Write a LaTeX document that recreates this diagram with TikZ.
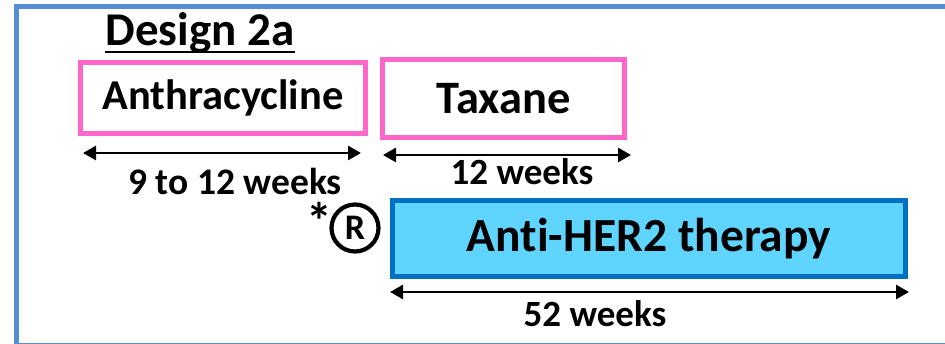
\documentclass[tikz,border=0pt]{standalone}
\usepackage{fontspec}
\setmainfont{Carlito}[Ligatures=NoCommon]
\usetikzlibrary{arrows.meta}
\definecolor{framec}{HTML}{558ED5}
\definecolor{pinkc}{HTML}{FF66CC}
\definecolor{darkblue}{HTML}{0070C0}
\definecolor{lightblue}{HTML}{5FD4FF}
\begin{document}
\begin{tikzpicture}[x=1pt,y=-1pt,
  chemo/.style={draw=pinkc,line width=5pt,inner sep=0pt},
  her/.style={draw=darkblue,fill=lightblue,line width=5pt,inner sep=0pt},
  dur/.style={line width=2.8pt,{Triangle[length=13pt,width=14pt]}-{Triangle[length=13pt,width=14pt]}},
  lbl/.style={font=\bfseries,inner sep=0pt}]
\useasboundingbox (0,0) rectangle (945,344);
\clip (0,0) rectangle (945,344);
\draw[framec,line width=5pt] (16.5,6.5) rectangle (960,345.5);
\node[lbl,font=\bfseries\fontsize{47}{49}\selectfont,anchor=base] (title) at (200,46) {Design 2a};
\draw[line width=2.6pt] ([yshift=-6pt]title.base west) -- ([yshift=-6pt]title.base east);
% boxes
\node[chemo,minimum width=285pt,minimum height=71pt] (anth) at (223,98)
  {\fontsize{42.5}{44}\selectfont\bfseries Anthracycline};
\node[chemo,minimum width=242pt,minimum height=78pt] (tax) at (503.5,98.5)
  {\fontsize{46.5}{48}\selectfont\bfseries Taxane};
\node[her,minimum width=513pt,minimum height=76pt] (her) at (649,238.5)
  {\fontsize{47.5}{50}\selectfont\bfseries Anti-HER2 therapy};
% arrows
\coordinate (a1) at (83,153); \coordinate (a2) at (361,153);
\coordinate (t1) at (383,155); \coordinate (t2) at (631,155);
\coordinate (h1) at (390,292); \coordinate (h2) at (909,292);
\draw[dur] (a1) -- (a2);
\draw[dur] (t1) -- (t2);
\draw[dur] (h1) -- (h2);
\node[lbl,font=\bfseries\fontsize{37.5}{40}\selectfont] (al) at (235,181) {9 to 12 weeks};
\node[lbl,font=\bfseries\fontsize{37}{40}\selectfont] (tl) at (522,172) {12 weeks};
\node[lbl,font=\bfseries\fontsize{37}{40}\selectfont] (hl) at (595,314) {52 weeks};
% randomisation mark
\node[draw,circle,line width=4.2pt,minimum size=47pt,inner sep=0pt,font=\bfseries\fontsize{36}{38}\selectfont] (r) at (355,228) {R};
\node[lbl,font=\bfseries\fontsize{52}{54}\selectfont] (ast) at (319,221) {*};
\end{tikzpicture}
\end{document}
